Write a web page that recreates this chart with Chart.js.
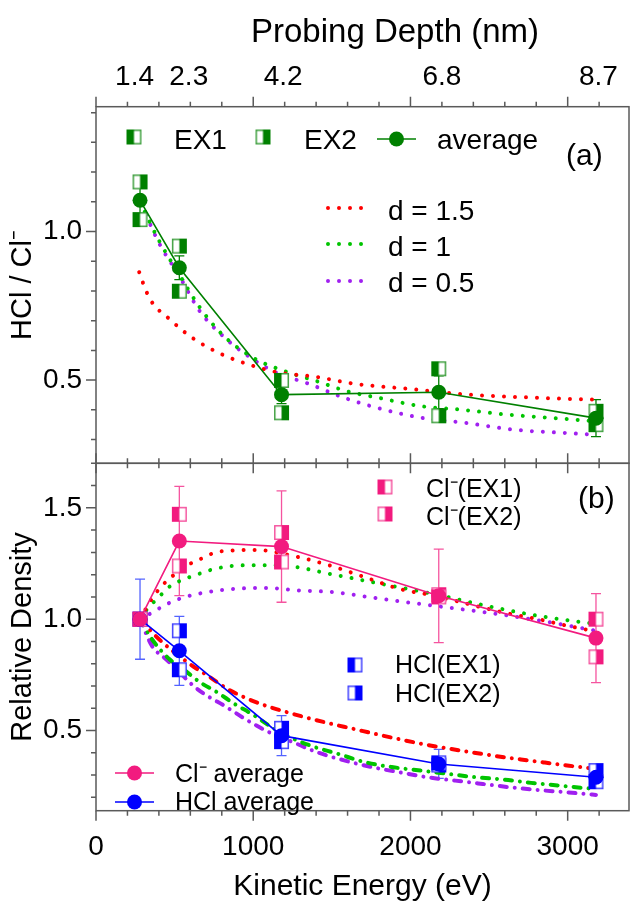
<!DOCTYPE html>
<html><head><meta charset="utf-8">
<script src="https://cdn.jsdelivr.net/npm/chart.js@4.4.1/dist/chart.umd.min.js"></script>
<style>
html,body{margin:0;padding:0;background:#fff;width:630px;height:905px;overflow:hidden}
#c1{position:absolute;left:0;top:0}
#c2{position:absolute;left:0;top:440px}
</style></head><body>
<canvas id="c1" width="630" height="480"></canvas>
<canvas id="c2" width="630" height="465"></canvas>
<script>
const FONT = "'Liberation Sans', Arial, sans-serif";

// ---------------- data ----------------
const energies = [280, 530, 1180, 2180, 3180];            // kinetic energy (eV)
const energyTicks = [0, 1000, 2000, 3000];                 // labelled KE ticks
const depthLabels = ['1.4', '2.3', '4.2', '6.8', '8.7'];    // probing depth (nm)
const depthLabelKE = [245, 590, 1190, 2200, 3195];          // where depth labels sit on KE axis

// (a) HCl / Cl- ratio
const ratioEX1 = [1.040, 0.799, 0.499, 0.538, 0.350];
const ratioEX2 = [1.167, 0.951, 0.390, 0.380, 0.395];
const ratioAvg = [1.105, 0.878, 0.451, 0.459, 0.372];
const ratioErr = [0.06, 0.04, 0.03, 0.055, 0.062];

const ratioD15KE = [275, 291, 345, 466, 613, 795, 992, 1157, 1398, 1639, 2000, 2373, 2833, 3173];
const ratioD15   = [0.863, 0.838, 0.771, 0.706, 0.642, 0.588, 0.549, 0.526, 0.511, 0.488, 0.470, 0.451, 0.440, 0.434];
const ratioD1KE  = [280, 400, 530, 660, 800, 1000, 1200, 1400, 1600, 1800, 2070, 2330, 2610, 2920, 3180];
const ratioD1    = [1.100, 0.970, 0.855, 0.745, 0.655, 0.575, 0.530, 0.497, 0.462, 0.440, 0.412, 0.400, 0.384, 0.372, 0.361];
const ratioD05KE = [290, 400, 530, 660, 820, 970, 1150, 1340, 1580, 1830, 2070, 2350, 2660, 2990, 3180];
const ratioD05   = [1.090, 0.962, 0.850, 0.732, 0.642, 0.580, 0.524, 0.490, 0.440, 0.401, 0.373, 0.356, 0.333, 0.322, 0.316];

// (b) relative density
const clEX1  = [1.0, 1.471, 1.257, 1.100, 1.000];
const clEX2  = [1.0, 1.239, 1.389, 1.110, 0.831];
const clAvg  = [1.0, 1.351, 1.326, 1.105, 0.915];
const clErr  = [0, 0.245, 0.25, 0.21, 0.2];
const hclEX1 = [1.0, 0.773, 0.450, 0.355, 0.270];
const hclEX2 = [1.0, 0.948, 0.510, 0.345, 0.320];
const hclAvg = [1.0, 0.858, 0.477, 0.350, 0.290];
const hclErr = [0.18, 0.155, 0.09, 0.065, 0.04];

const clD15KE = [280, 354, 418, 492, 555, 661, 757, 884, 1011, 1255, 1497, 1716, 1935, 2154, 2373, 2592, 2812, 3000, 3180];
const clD15   = [1.0, 1.090, 1.149, 1.197, 1.232, 1.269, 1.299, 1.309, 1.311, 1.284, 1.239, 1.187, 1.135, 1.105, 1.067, 1.030, 1.000, 0.970, 0.945];
const clD1KE  = [280, 333, 397, 460, 534, 630, 746, 862, 968, 1095, 1223, 1497, 1826, 2154, 2483, 2812, 3180];
const clD1    = [1.0, 1.052, 1.097, 1.142, 1.172, 1.197, 1.224, 1.239, 1.242, 1.242, 1.239, 1.202, 1.157, 1.112, 1.060, 1.015, 0.978];
const clD05KE = [280, 365, 449, 555, 672, 799, 926, 1095, 1265, 1497, 1826, 2154, 2483, 2812, 3180];
const clD05   = [1.0, 1.033, 1.067, 1.097, 1.117, 1.131, 1.138, 1.140, 1.130, 1.122, 1.090, 1.060, 1.030, 0.995, 0.948];

const hclD15KE = [280, 401, 598, 729, 838, 970, 1102, 1235, 1365, 1497, 1628, 1781, 1935, 2088, 2241, 2373, 2548, 2702, 2855, 3009, 3170];
const hclD15   = [1.0, 0.910, 0.798, 0.738, 0.686, 0.641, 0.606, 0.578, 0.553, 0.530, 0.509, 0.484, 0.460, 0.438, 0.419, 0.404, 0.385, 0.370, 0.356, 0.342, 0.328];
const hclD1KE  = [280, 356, 466, 554, 663, 773, 882, 992, 1102, 1212, 1365, 1540, 1716, 1891, 2066, 2241, 2416, 2592, 2767, 2943, 3119, 3180];
const hclD1    = [1.0, 0.910, 0.821, 0.776, 0.716, 0.671, 0.619, 0.574, 0.522, 0.477, 0.432, 0.395, 0.357, 0.335, 0.320, 0.305, 0.290, 0.280, 0.265, 0.253, 0.241, 0.238];
const hclD05KE = [280, 356, 444, 532, 619, 707, 817, 948, 1102, 1255, 1408, 1584, 1760, 1935, 2110, 2285, 2460, 2636, 2812, 2987, 3180];
const hclD05   = [1.0, 0.880, 0.821, 0.761, 0.701, 0.656, 0.611, 0.552, 0.492, 0.447, 0.402, 0.365, 0.335, 0.312, 0.290, 0.275, 0.260, 0.245, 0.233, 0.223, 0.211];

// axis ranges
const xRange = [0, 3390];
const yRangeA = [0.22, 1.42];
const yRangeB = [0.14, 1.70];

// ---------------- styles ----------------
const GREEN = '#008000', PINK = '#f21b7f', BLUE = '#0000ff';
const M_RED = '#ff0000', M_GREEN = '#00c400', M_PURPLE = '#a020f0';

function pts(xs, ys) { return xs.map((x, i) => ({x: x, y: ys[i]})); }

function makeMarker(color, side) {
  const c = document.createElement('canvas'); c.width = 17; c.height = 17;
  const g = c.getContext('2d');
  g.fillStyle = '#fff'; g.fillRect(1, 1, 15, 15);
  g.fillStyle = color;
  if (side === 'left') g.fillRect(1, 1, 7.5, 15); else g.fillRect(8.5, 1, 7.5, 15);
  g.globalAlpha = 0.75; g.strokeStyle = color; g.lineWidth = 1.5; g.strokeRect(1.75, 1.75, 13.5, 13.5);
  return c;
}
const mkG1 = makeMarker(GREEN, 'left'), mkG2 = makeMarker(GREEN, 'right');
const mkP1 = makeMarker(PINK, 'left'),  mkP2 = makeMarker(PINK, 'right');
const mkB1 = makeMarker(BLUE, 'left'),  mkB2 = makeMarker(BLUE, 'right');

function dottedSet(xs, ys, color) {
  return {data: pts(xs, ys), borderColor: color, borderWidth: 4, borderDash: [0.001, 11],
    borderCapStyle: 'round', pointRadius: 0, fill: false, cubicInterpolationMode: 'monotone', order: 3};
}
function dashDotSet(xs, ys, color) {
  return {data: pts(xs, ys), borderColor: color, borderWidth: 4, borderDash: [7, 8, 0.001, 8],
    borderCapStyle: 'round', pointRadius: 0, fill: false, cubicInterpolationMode: 'monotone', order: 3};
}
function markerSet(ys, img) {
  return {data: pts(energies, ys), showLine: false, pointStyle: img, pointRadius: 8, order: 2};
}
function avgSet(ys, color) {
  return {data: pts(energies, ys), borderColor: color, borderWidth: 1.6, backgroundColor: color,
    pointBackgroundColor: color, pointBorderWidth: 0, pointRadius: 7.5, pointStyle: 'circle', tension: 0, order: 1};
}

// ---------------- drawing helpers ----------------
function txt(ctx, s, x, y, size, align) {
  ctx.save(); ctx.font = size + 'px ' + FONT; ctx.fillStyle = '#000';
  ctx.textBaseline = 'alphabetic'; ctx.textAlign = align || 'left'; ctx.fillText(s, x, y); ctx.restore();
}
function dotsLine(ctx, x1, x2, y, color) {
  ctx.save(); ctx.strokeStyle = color; ctx.lineWidth = 4; ctx.lineCap = 'round';
  ctx.setLineDash([0.001, 11]); ctx.beginPath(); ctx.moveTo(x1, y); ctx.lineTo(x2, y); ctx.stroke(); ctx.restore();
}
function avgSymbol(ctx, x1, x2, y, color) {
  ctx.save(); ctx.strokeStyle = color; ctx.fillStyle = color; ctx.lineWidth = 1.6;
  ctx.beginPath(); ctx.moveTo(x1, y); ctx.lineTo(x2, y); ctx.stroke();
  ctx.beginPath(); ctx.arc((x1 + x2) / 2, y, 7.5, 0, Math.PI * 2); ctx.fill(); ctx.restore();
}
function marker(ctx, img, x, y) { ctx.drawImage(img, x - img.width / 2, y - img.height / 2); }

function decorPlugin(name, errorBars, legend) {
  return {
    id: 'decor_' + name,
    beforeDatasetsDraw(chart) {
      const ctx = chart.ctx, x = chart.scales.x, y = chart.scales.y;
      errorBars.forEach(eb => {
        ctx.save(); ctx.strokeStyle = eb.color; ctx.lineWidth = 1.3;
        eb.values.forEach((v, i) => {
          const e = eb.err[i]; if (!e) return;
          const px = x.getPixelForValue(energies[i]);
          const pt = y.getPixelForValue(v + e), pb = y.getPixelForValue(v - e);
          ctx.beginPath();
          ctx.moveTo(px, pt); ctx.lineTo(px, pb);
          ctx.moveTo(px - 5, pt); ctx.lineTo(px + 5, pt);
          ctx.moveTo(px - 5, pb); ctx.lineTo(px + 5, pb);
          ctx.stroke();
        });
        ctx.restore();
      });
    },
    afterDraw(chart) {
      const ctx = chart.ctx, a = chart.chartArea, x = chart.scales.x, y = chart.scales.y;
      ctx.save();
      ctx.strokeStyle = '#5a5a5a'; ctx.lineWidth = 1.5;
      ctx.strokeRect(a.left, a.top, a.right - a.left, a.bottom - a.top);
      ctx.beginPath();
      for (let k = 0; k * 200 <= x.max + 1e-9; k++) {
        const px = x.getPixelForValue(k * 200), len = (k % 5 === 0) ? 10 : 5;
        ctx.moveTo(px, a.top); ctx.lineTo(px, a.top - len);
        ctx.moveTo(px, a.bottom); ctx.lineTo(px, a.bottom + len);
      }
      const k0 = Math.ceil(y.min * 10 - 1e-9), k1 = Math.floor(y.max * 10 + 1e-9);
      for (let k = k0; k <= k1; k++) {
        const py = y.getPixelForValue(k / 10), len = (k % 5 === 0) ? 10 : 5;
        ctx.moveTo(a.left, py); ctx.lineTo(a.left - len, py);
      }
      ctx.stroke();
      ctx.restore();
      legend(ctx, chart);
    }
  };
}

function yAxis(range, title) {
  return {
    type: 'linear', position: 'left', min: range[0], max: range[1],
    ticks: {stepSize: 0.5, autoSkip: false, padding: 14, color: '#000', font: {family: FONT, size: 28},
      callback: v => (Math.abs(v * 2 - Math.round(v * 2)) < 1e-6) ? v.toFixed(1) : ''},
    grid: {display: false, drawTicks: false}, border: {display: false},
    title: {display: true, text: title, color: '#000', font: {family: FONT, size: 29}, padding: {top: 6, bottom: 0}},
    afterFit: s => { s.width = 96; s.paddingTop = 0; s.paddingBottom = 0; }
  };
}

Chart.defaults.font.family = FONT;

// ---------------- panel (a) ----------------
new Chart(document.getElementById('c1'), {
  type: 'line',
  data: {datasets: [
    avgSet(ratioAvg, GREEN),
    markerSet(ratioEX1, mkG1),
    markerSet(ratioEX2, mkG2),
    dottedSet(ratioD15KE, ratioD15, M_RED),
    dottedSet(ratioD1KE, ratioD1, M_GREEN),
    dottedSet(ratioD05KE, ratioD05, M_PURPLE)
  ]},
  options: {
    responsive: false, animation: false, events: [],
    layout: {autoPadding: false, padding: {top: 0, right: 1, bottom: 0, left: 0}},
    plugins: {legend: {display: false}, tooltip: {enabled: false}},
    scales: {
      x: {type: 'linear', position: 'bottom', min: xRange[0], max: xRange[1],
        ticks: {display: false}, grid: {display: false, drawTicks: false}, border: {display: false},
        afterFit: s => { s.height = 16.7; s.paddingLeft = 0; s.paddingRight = 0; }},
      x2: {type: 'linear', position: 'top', min: xRange[0], max: xRange[1],
        afterBuildTicks: s => { s.ticks = depthLabelKE.map(v => ({value: v})); },
        ticks: {autoSkip: false, maxRotation: 0, padding: 13, color: '#000', font: {family: FONT, size: 28},
          callback: (v, i) => depthLabels[i]},
        grid: {display: false, drawTicks: false}, border: {display: false},
        afterFit: s => { s.height = 106.7; s.paddingLeft = 0; s.paddingRight = 0; }},
      y: yAxis(yRangeA, 'HCl / Cl\u207B')
    }
  },
  plugins: [decorPlugin('a', [{values: ratioAvg, err: ratioErr, color: GREEN}], (ctx) => {
    txt(ctx, 'Probing Depth (nm)', 395, 42, 33, 'center');
    marker(ctx, mkG1, 134, 137); txt(ctx, 'EX1', 174, 149, 28);
    marker(ctx, mkG2, 263, 137); txt(ctx, 'EX2', 304, 149, 28);
    avgSymbol(ctx, 377, 416, 139, GREEN); txt(ctx, 'average', 437, 149, 28);
    txt(ctx, '(a)', 566, 165, 30);
    dotsLine(ctx, 328, 362, 208, M_RED);    txt(ctx, 'd = 1.5', 388, 220, 28);
    dotsLine(ctx, 328, 362, 244, M_GREEN);  txt(ctx, 'd = 1', 388, 256, 28);
    dotsLine(ctx, 328, 362, 281, M_PURPLE); txt(ctx, 'd = 0.5', 388, 292, 28);
  })]
});

// ---------------- panel (b) ----------------
new Chart(document.getElementById('c2'), {
  type: 'line',
  data: {datasets: [
    avgSet(clAvg, PINK),
    avgSet(hclAvg, BLUE),
    markerSet(clEX1, mkP1),
    markerSet(clEX2, mkP2),
    markerSet(hclEX1, mkB1),
    markerSet(hclEX2, mkB2),
    dottedSet(clD15KE, clD15, M_RED),
    dottedSet(clD1KE, clD1, M_GREEN),
    dottedSet(clD05KE, clD05, M_PURPLE),
    dashDotSet(hclD15KE, hclD15, M_RED),
    dashDotSet(hclD1KE, hclD1, M_GREEN),
    dashDotSet(hclD05KE, hclD05, M_PURPLE)
  ]},
  options: {
    responsive: false, animation: false, events: [],
    layout: {autoPadding: false, padding: {top: 23.3, right: 1, bottom: 0, left: 0}},
    plugins: {legend: {display: false}, tooltip: {enabled: false}},
    scales: {
      x: {type: 'linear', position: 'bottom', min: xRange[0], max: xRange[1],
        afterBuildTicks: s => { s.ticks = energyTicks.map(v => ({value: v})); },
        ticks: {autoSkip: false, maxRotation: 0, padding: 20, color: '#000', font: {family: FONT, size: 28},
          callback: v => String(v)},
        grid: {display: false, drawTicks: false}, border: {display: false},
        title: {display: true, text: 'Kinetic Energy (eV)', color: '#000', font: {family: FONT, size: 30}, padding: {top: 0, bottom: 0}},
        afterFit: s => { s.height = 94.3; s.paddingLeft = 0; s.paddingRight = 0; }},
      y: yAxis(yRangeB, 'Relative Density')
    }
  },
  plugins: [decorPlugin('b', [{values: clAvg, err: clErr, color: 'rgba(242,27,127,0.75)'},
                              {values: hclAvg, err: hclErr, color: 'rgba(40,60,255,0.8)'}], (ctx) => {
    marker(ctx, mkP1, 385, 47);  txt(ctx, 'Cl\u207B(EX1)', 426, 57, 25);
    marker(ctx, mkP2, 385, 74);  txt(ctx, 'Cl\u207B(EX2)', 426, 85, 25);
    txt(ctx, '(b)', 578, 68, 30);
    marker(ctx, mkB1, 355, 225); txt(ctx, 'HCl(EX1)', 395, 233, 25);
    marker(ctx, mkB2, 355, 253); txt(ctx, 'HCl(EX2)', 395, 262, 25);
    avgSymbol(ctx, 115, 154, 333, PINK); txt(ctx, 'Cl\u207B average', 175, 342, 25);
    avgSymbol(ctx, 115, 154, 362, BLUE); txt(ctx, 'HCl average', 175, 370, 25);
  })]
});
</script>
</body></html>
